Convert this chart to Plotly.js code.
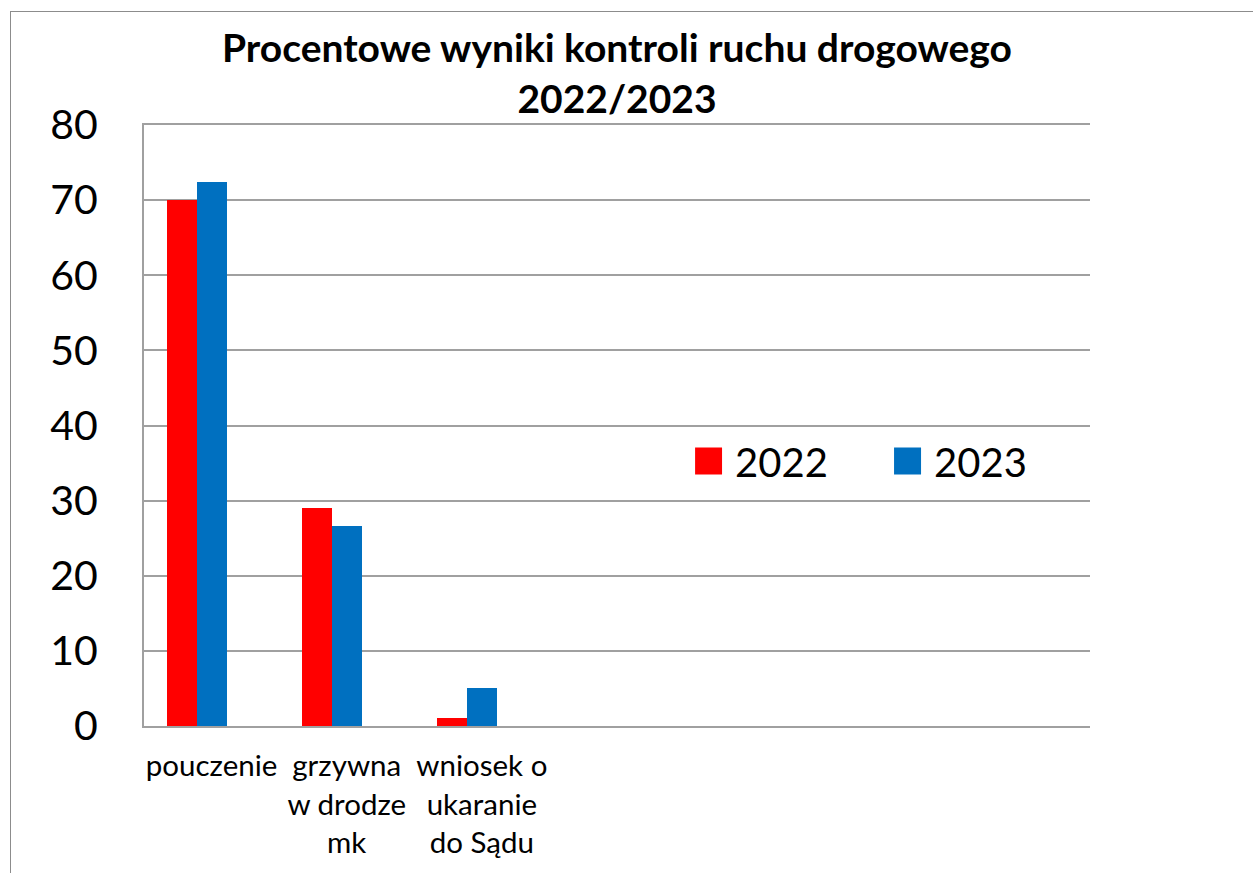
<!DOCTYPE html>
<html>
<head>
<meta charset="utf-8">
<script src="https://cdn.plot.ly/plotly-3.0.1.min.js"></script>
<style>
  html, body { margin: 0; padding: 0; background: #fff; }
  #wrap { position: relative; width: 1253px; height: 873px; overflow: hidden; }
  #chart { position: absolute; left: 0; top: 0; width: 1253px; height: 873px; }
  #frame { position: absolute; left: 10px; top: 11px; width: 1400px; height: 1000px;
           border-left: 1.5px solid #8c8c8c; border-top: 1.5px solid #8c8c8c; pointer-events: none; }
</style>
</head>
<body>
<div id="wrap">
  <div id="chart"></div>
  <div id="frame"></div>
</div>
<script>
const categories = ["pouczenie", "grzywna<br>w drodze<br>mk", "wniosek o<br>ukaranie<br>do Sądu"];
const values2022 = [70, 29, 1];
const values2023 = [72.4, 26.6, 5];
const seriesNames = ["2022", "2023"];
const seriesColors = ["#FF0000", "#0070C0"];
const yTicks = [0, 10, 20, 30, 40, 50, 60, 70, 80];

const FONT = "Lato, 'Open Sans', sans-serif";
const barW = 30 / 135;

const traces = [
  { type: "bar", name: seriesNames[0], x: categories, y: values2022,
    marker: { color: seriesColors[0] }, width: barW, offset: -1.5 * barW, hoverinfo: "x+y" },
  { type: "bar", name: seriesNames[1], x: categories, y: values2023,
    marker: { color: seriesColors[1] }, width: barW, offset: -0.5 * barW, hoverinfo: "x+y" }
];

const layout = {
  width: 1253, height: 873,
  margin: { l: 144, r: 163, t: 125, b: 147, pad: 0 },
  paper_bgcolor: "rgba(0,0,0,0)", plot_bgcolor: "#fff",
  font: { family: FONT, color: "#000" },
  title: {
    text: "<b>Procentowe wyniki kontroli ruchu drogowego<br>2022/2023</b>",
    font: { family: FONT, size: 39, color: "#000" },
    x: 0.5, xref: "paper", xanchor: "center",
    y: 0.929, yref: "container", yanchor: "middle"
  },
  showlegend: true,
  legend: {
    orientation: "h", x: 0.5825, xanchor: "left", y: 0.441, yanchor: "middle",
    font: { family: FONT, size: 40, color: "#000" },
    bgcolor: "rgba(0,0,0,0)", entrywidth: 154, entrywidthmode: "pixels",
    traceorder: "normal"
  },
  bargap: 0, bargroupgap: 0,
  xaxis: {
    type: "category", range: [-0.5, 6.5], fixedrange: true,
    showgrid: false, zeroline: false,
    showline: true, mirror: true, linecolor: "#a0a0a0", linewidth: 2,
    ticks: "", tickfont: { family: FONT, size: 29.5, color: "#000" },
    ticklabelstandoff: 13
  },
  yaxis: {
    range: [0, 80], tickvals: yTicks, fixedrange: true,
    showgrid: true, gridcolor: "#a0a0a0", gridwidth: 2,
    zeroline: false, showline: true, linecolor: "#a0a0a0", linewidth: 2,
    ticks: "", tickfont: { family: FONT, size: 41, color: "#000" },
    ticklabelstandoff: 36
  }
};

Plotly.newPlot("chart", traces, layout, { displayModeBar: false, staticPlot: true }).then(function () {
  document.querySelectorAll("#chart .legendpoints path").forEach(function (p) {
    p.setAttribute("transform", "translate(13.5,0) scale(2.25)");
  });
});
</script>
</body>
</html>
